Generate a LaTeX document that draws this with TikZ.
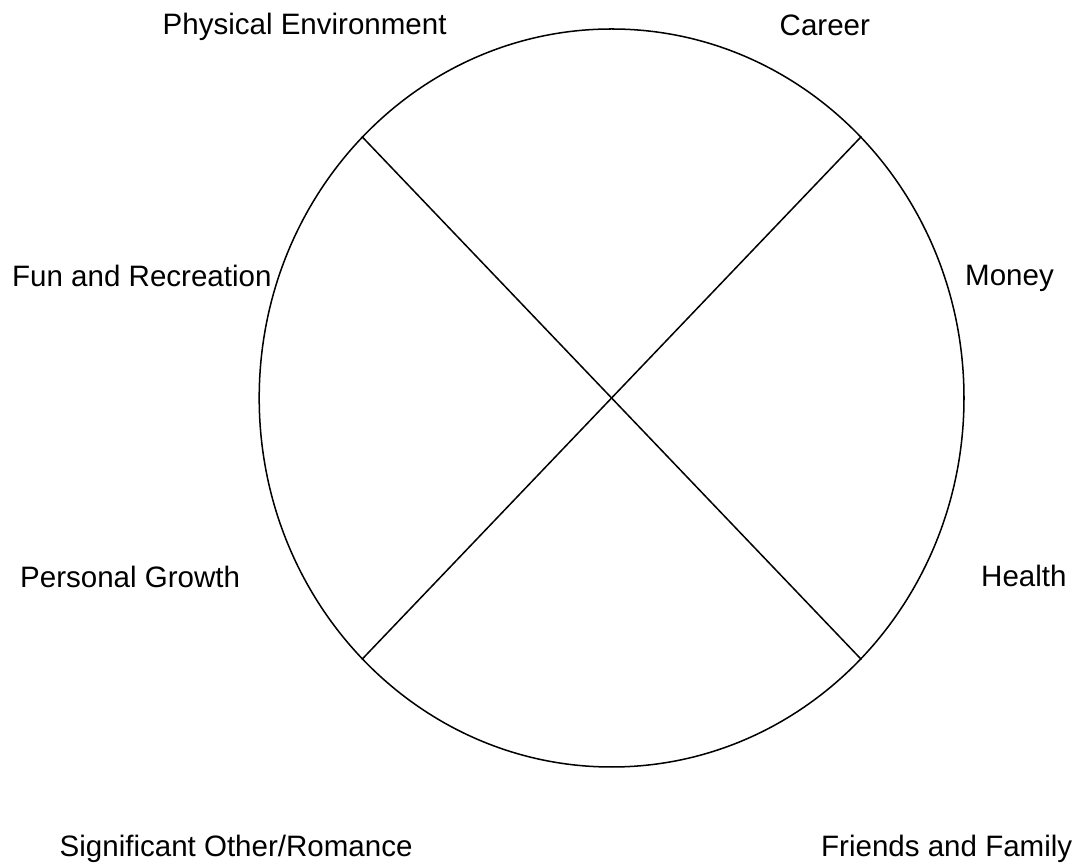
\documentclass[tikz,border=0pt]{standalone}
\usepackage{fontspec}
\setmainfont{Liberation Sans}
\usetikzlibrary{shapes.geometric}

\begin{document}
\begin{tikzpicture}[
    lifearea/.style={anchor=base west, inner sep=0pt, font=\fontsize{8.4pt}{10pt}\selectfont},
    wheelline/.style={line width=0.43pt, black}]
    \useasboundingbox (0,0) rectangle (10.79,-8.64);
    \node [ellipse, draw, wheelline, inner sep=0pt,
        minimum width=7.048cm, minimum height=7.38cm] (wheel) at (6.116,-3.98) {};
    \draw [wheelline] (wheel.north west) -- (wheel.south east);
    \draw [wheelline] (wheel.north east) -- (wheel.south west);
    \node [lifearea] (physical) at (1.62,-0.35) {Physical Environment};
    \node [lifearea] (career)   at (7.79,-0.36) {Career};
    \node [lifearea] (fun)      at (0.115,-2.867) {Fun and Recreation};
    \node [lifearea] (money)    at (9.645,-2.86) {Money};
    \node [lifearea] (growth)   at (0.195,-5.873) {Personal Growth};
    \node [lifearea] (health)   at (9.805,-5.867) {Health};
    \node [lifearea] (romance)  at (0.59,-8.565) {Significant Other/Romance};
    \node [lifearea] (friends)  at (8.205,-8.565) {Friends and Family};
\end{tikzpicture}
\end{document}
